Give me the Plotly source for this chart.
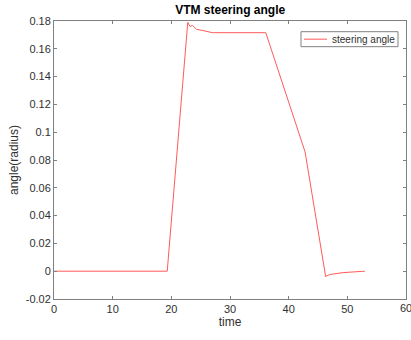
import plotly.graph_objects as go

time = [0, 2.2, 2.4, 2.6, 19.3, 22.8, 23.2, 23.6, 24.3, 25.2, 27.0, 30.0, 36.1, 42.8, 46.3, 47.0, 47.9, 49.3, 53.0]
angle = [0, 0, 0.0004, 0, 0, 0.179, 0.176, 0.1768, 0.174, 0.1733, 0.1716, 0.1716, 0.1716, 0.0858, -0.0038, -0.0024, -0.002, -0.001, 0]
xticks = [0, 10, 20, 30, 40, 50]
yticks = [-0.02, 0, 0.02, 0.04, 0.06, 0.08, 0.1, 0.12, 0.14, 0.16, 0.18]
ytext = ["-0.02", "0", "0.02", "0.04", "0.06", "0.08", "0.1", "0.12", "0.14", "0.16", "0.18"]
series_name = "steering angle"

FONT = "Liberation Sans, Arial"
LINE_COLOR = "#ff4747"
fig = go.Figure()
fig.add_trace(go.Scatter(x=time, y=angle, mode="lines", name=series_name,
                         line=dict(color=LINE_COLOR, width=0.9), showlegend=False))

axis_common = dict(showline=True, linecolor="#808080", linewidth=1, mirror="ticks",
                   ticks="inside", ticklen=3, tickcolor="#808080", showgrid=False,
                   zeroline=False, tickfont=dict(family=FONT, size=11, color="#303030"))

fig.update_layout(
    width=411, height=340,
    margin=dict(l=54, r=5, t=21, b=41),
    paper_bgcolor="white", plot_bgcolor="white",
    title=dict(text="<b>VTM steering angle</b>", x=0.56, xanchor="center", y=0.97, yanchor="middle",
               font=dict(family=FONT, size=12, color="black")),
    xaxis=dict(range=[0, 60], tickvals=xticks + [60], ticktext=[str(v) for v in xticks] + [""],
               title=dict(text="time", standoff=0, font=dict(family=FONT, size=12, color="#303030")),
               **axis_common),
    yaxis=dict(range=[-0.02, 0.18], tickvals=yticks, ticktext=ytext,
               title=dict(text="angle(radius)", standoff=4, font=dict(family=FONT, size=12, color="#303030")),
               **axis_common),
    showlegend=False,
    shapes=[
        dict(type="rect", xref="paper", yref="paper", x0=0.7017, x1=0.9773, y0=0.9076, y1=0.9615,
             line=dict(color="#808080", width=1), fillcolor="white"),
        dict(type="line", xref="paper", yref="paper", x0=0.7102, x1=0.7756, y0=0.9346, y1=0.9346,
             line=dict(color=LINE_COLOR, width=0.9)),
    ],
    annotations=[
        dict(x=60, y=0, xref="x", yref="paper", yanchor="top", yshift=-1, text="60",
             showarrow=False, font=dict(family=FONT, size=11, color="#303030")),
        dict(x=0.785, y=0.9346, xref="paper", yref="paper", xanchor="left", yanchor="middle",
             text=series_name, showarrow=False, font=dict(family=FONT, size=10, color="#303030")),
    ],
)

fig.write_html("out.html")
